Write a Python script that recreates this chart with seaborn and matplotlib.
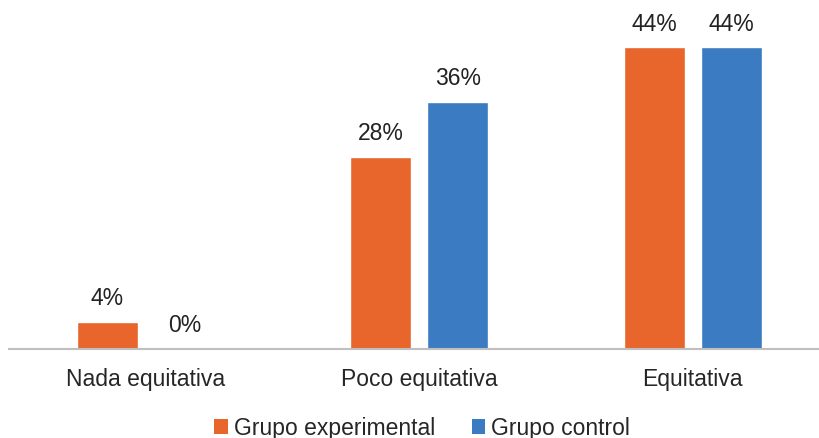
import matplotlib
matplotlib.use("Agg")
import matplotlib.pyplot as plt
from matplotlib.patches import Patch
import seaborn as sns
import pandas as pd

categories = ["Nada equitativa", "Poco equitativa", "Equitativa"]
groups = ["Grupo experimental", "Grupo control"]
experimental = [4, 28, 44]
control = [0, 36, 44]
colors = ["#E8662C", "#3A7BC2"]

df = pd.DataFrame({
    "categoria": categories * 2,
    "grupo": [groups[0]] * 3 + [groups[1]] * 3,
    "valor": experimental + control,
})

sns.set_theme(style="white")
plt.rcParams["font.family"] = ["Liberation Sans", "DejaVu Sans"]

fig = plt.figure(figsize=(8.19, 4.39), dpi=100)
left = 9 / 819
ax = fig.add_axes([left, (439 - 350) / 439, 1 - left, 350 / 439])

sns.barplot(data=df, x="categoria", y="valor", hue="grupo", order=categories,
            hue_order=groups, palette=colors, width=0.564, gap=0.21,
            saturation=1, legend=False, ax=ax)

ax.set_xlim(-0.5, -0.5 + (819 - 9) / 273.5)
ax.set_ylim(0, 51.0)

for container in ax.containers:
    ax.bar_label(container, labels=[f"{v:.0f}%" for v in container.datavalues],
                 padding=9, fontsize=16.5, color="#222222")

for s in ["top", "right", "left"]:
    ax.spines[s].set_visible(False)
ax.spines["bottom"].set_color("#BFBFBF")
ax.spines["bottom"].set_linewidth(1.5)
ax.set_yticks([])
ax.set_xlabel("")
ax.set_ylabel("")
ax.tick_params(axis="x", length=0, pad=13, labelsize=16.5, labelcolor="#262626")

handles = [Patch(facecolor=c, edgecolor="none") for c in colors]
fig.legend(handles, groups, loc="center", bbox_to_anchor=(422 / 819, 1 - 429 / 439),
           ncol=2, frameon=False, fontsize=16.5, handlelength=0.6,
           handleheight=0.6, handletextpad=0.25, columnspacing=1.6,
           labelcolor="#262626", borderpad=0, borderaxespad=0)

fig.savefig("out.png", dpi=100)
